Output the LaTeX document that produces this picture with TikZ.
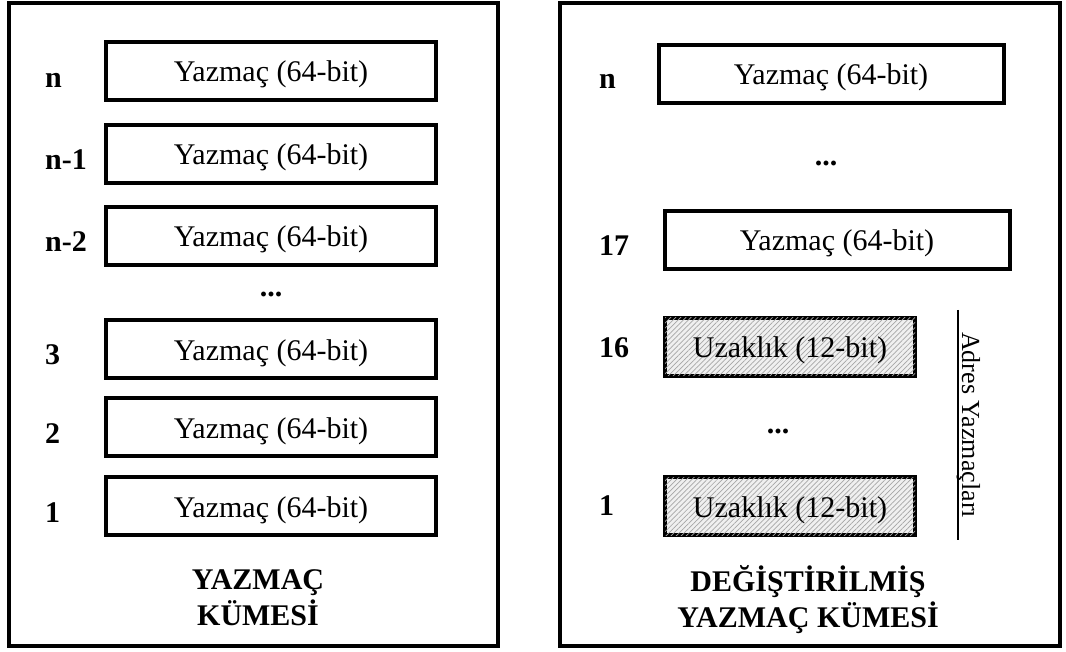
\documentclass[tikz,border=0pt]{standalone}
\usepackage{fontspec}
\setmainfont{Liberation Serif}
\usetikzlibrary{patterns.meta}
\begin{document}
\begin{tikzpicture}[x=1pt,y=-1pt,
  big/.style={font=\fontsize{30}{36}\selectfont},
  reg/.style={draw,line width=4pt,minimum height=58pt,inner sep=0pt,
    text height=22pt,text depth=0pt,big},
  wreg/.style={reg,minimum width=330pt},
  rreg/.style={reg,minimum width=345pt},
  ureg/.style={reg,minimum width=250pt,
    preaction={fill=gray!12},
    postaction={pattern={Lines[angle=45,distance=3.6pt,line width=0.7pt]},pattern color=gray!70}},
  lbl/.style={anchor=base west,inner sep=0pt,font=\fontsize{30}{36}\selectfont\bfseries},
  dots/.style={inner sep=0pt,font=\fontsize{30}{36}\selectfont\bfseries},
  ttl/.style={align=center,anchor=base,inner sep=0pt,font=\fontsize{30}{36}\selectfont\bfseries},
  frame/.style={draw,line width=4pt}]
\useasboundingbox (0,0) rectangle (1066,652);
% outer frames
\draw[frame] (9,3) rectangle (498,646);
\draw[frame] (560,3) rectangle (1060,646);
% left panel
\node[wreg] (Ln)  at (271,71)  {Yazmaç (64-bit)};
\node[wreg] (Ln1) at (271,154) {Yazmaç (64-bit)};
\node[wreg] (Ln2) at (271,236) {Yazmaç (64-bit)};
\node[dots] (Ld) at (271,294) {...};
\node[wreg] (L3)  at (271,349) {Yazmaç (64-bit)};
\node[wreg] (L2)  at (271,427) {Yazmaç (64-bit)};
\node[wreg] (L1)  at (271,506) {Yazmaç (64-bit)};
\node[lbl] (lLn)  at (45,88)  {n};
\node[lbl] (lLn1) at (45,170) {n-1};
\node[lbl] (lLn2) at (45,252) {n-2};
\node[lbl] (lL3)  at (45,365) {3};
\node[lbl] (lL2)  at (45,443) {2};
\node[lbl] (lL1)  at (45,522) {1};
\node[ttl] (Lt) at (258,625) {YAZMAÇ\\KÜMESİ};
% right panel
\node[rreg] (Rn)  at (831,74)  {Yazmaç (64-bit)};
\node[dots] (Rd1) at (826,163) {...};
\node[rreg] (R17) at (837,240) {Yazmaç (64-bit)};
\node[ureg] (R16) at (790,347) {Uzaklık (12-bit)};
\node[dots] (Rd2) at (778,431) {...};
\node[ureg] (R1)  at (790,506) {Uzaklık (12-bit)};
\node[lbl] (lRn)  at (599,89)  {n};
\node[lbl] (lR17) at (599,256) {17};
\node[lbl] (lR16) at (599,358) {16};
\node[lbl] (lR1)  at (599,515) {1};
\node[ttl] (Rt) at (808,627) {DEĞİŞTİRİLMİŞ\\YAZMAÇ KÜMESİ};
% address registers bracket
\coordinate (ba) at (958,310);
\coordinate (bb) at (958,540);
\draw[line width=1.6pt] (ba) -- (bb);
\node[rotate=-90,anchor=base,inner sep=0pt,font=\fontsize{26}{30}\selectfont] (adr) at (962,425) {Adres Yazmaçları};
\end{tikzpicture}
\end{document}
